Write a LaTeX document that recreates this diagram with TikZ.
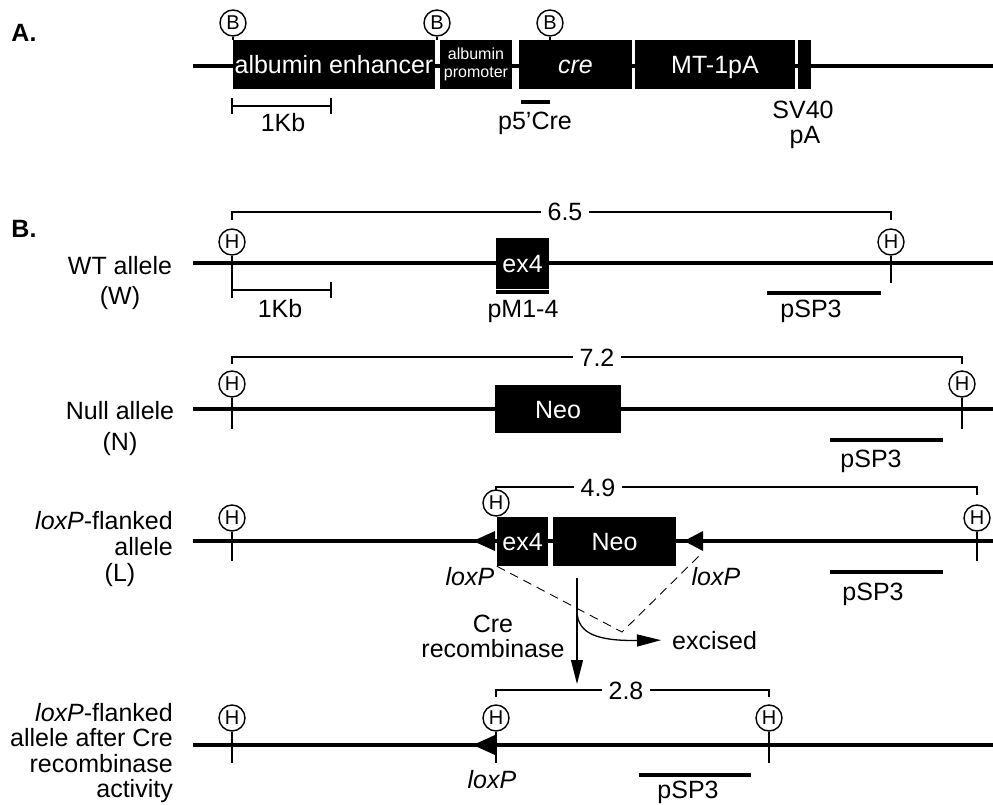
\documentclass[tikz,border=0pt]{standalone}
\usepackage{fontspec}
\setmainfont{Liberation Sans}
\usetikzlibrary{arrows.meta}
\newcommand\lblfont{\fontsize{25}{30}\selectfont}
\newcommand\tinyfont{\fontsize{16}{16}\selectfont}
\newcommand\sitefont{\fontsize{20}{20}\selectfont}
\begin{document}
\begin{tikzpicture}[x=1pt,y=-1pt,
  dna/.style={line width=3.2pt},
  gboxbase/.style={fill=black, draw=none, text=white, inner sep=0pt},
  gbox/.style={gboxbase, font=\lblfont, text height=18pt, text depth=0pt},
  site/.style={circle, draw, line width=1.4pt, fill=white, inner sep=0pt, minimum size=26pt, font=\sitefont},
  stem/.style={line width=1.3pt},
  probe/.style={line width=4.5pt},
  brk/.style={line width=1.2pt},
  txt/.style={inner sep=0pt, font=\lblfont, text height=18pt, text depth=0pt},
  num/.style={txt, fill=white, inner xsep=7pt},
  dsh/.style={line width=0.9pt, dash pattern=on 9pt off 6pt},
  arr/.style={line width=1.3pt, -{Triangle[length=24pt,width=12pt]}},
]
\useasboundingbox (0,0) rectangle (993,805);

% ---------------- Panel A ----------------
\node[txt, font=\lblfont\bfseries] (A) at (24,33) {A.};
\coordinate (aL) at (193,66);
\coordinate (aR) at (993,66);
\draw[dna] (aL) -- (aR);
\node[gbox, minimum width=202pt, minimum height=49pt] (enh) at (334,64.5) {albumin enhancer};
\node[gboxbase, minimum width=72pt, minimum height=49pt, align=center, font=\tinyfont] (prom) at (476,64.5) {albumin\\[2pt]promoter};
\node[gbox, minimum width=113pt, minimum height=49pt] (cre) at (575.5,64.5) {\itshape cre};
\node[gbox, minimum width=160pt, minimum height=49pt] (mt) at (715,64.5) {MT-1pA};
\node[gbox, minimum width=13pt, minimum height=49pt] (sv) at (804.5,64.5) {};
\node[site] (B1) at (233,23) {B};
\node[site] (B2) at (437,23) {B};
\node[site] (B3) at (550,23) {B};
\draw[stem] (B1) -- (233,40);
\draw[stem] (B2) -- (437,40);
\draw[stem] (B3) -- (550,40);
% 1 Kb scale
\coordinate (k1) at (232,106);
\coordinate (k2) at (331,106);
\draw[brk] (k1) -- (k2);
\draw[brk] ([yshift=-8pt]k1) -- ([yshift=8pt]k1);
\draw[brk] ([yshift=-8pt]k2) -- ([yshift=8pt]k2);
\node[txt] (kbA) at (283,123) {1Kb};
% p5'Cre
\coordinate (pc1) at (521,102);
\coordinate (pc2) at (550,102);
\draw[probe] (pc1) -- (pc2);
\node[txt] (pcre) at (535,121) {p5'Cre};
\node[txt] (sv40) at (803,110) {SV40};
\node[txt] (pA) at (805,135) {pA};

% ---------------- Panel B ----------------
\node[txt, font=\lblfont\bfseries] (B) at (24,228) {B.};

% WT allele
\node[txt] (wtl1) at (120,265) {WT allele};
\node[txt] (wtl2) at (120,295) {(W)};
\coordinate (wL) at (193,263);
\coordinate (wR) at (993,263);
\draw[dna] (wL) -- (wR);
\draw[brk] (232,220) -- (232,212) -- (891,212) -- (891,220);
\node[num] (n65) at (565,212) {6.5};
\node[site] (wH1) at (232,242) {H};
\node[site] (wH2) at (891,242) {H};
\draw[stem] (wH1) -- (232,283);
\draw[stem] (wH2) -- (891,283);
\node[gbox, minimum width=53pt, minimum height=51pt] (wex4) at (522.5,263.5) {ex4};
\draw[probe] (496,292) -- (549,292);
\node[txt] (pm14) at (523,308) {pM1-4};
\coordinate (k3) at (232,290);
\coordinate (k4) at (331,290);
\draw[brk] (k3) -- (k4);
\draw[brk] ([yshift=-8pt]k3) -- ([yshift=8pt]k3);
\draw[brk] ([yshift=-8pt]k4) -- ([yshift=8pt]k4);
\node[txt] (kbB) at (280,308) {1Kb};
\draw[probe] (767,293) -- (881,293);
\node[txt] (wsp) at (811,308) {pSP3};

% Null allele
\node[txt] (nl1) at (120,410) {Null allele};
\node[txt] (nl2) at (120,441) {(N)};
\coordinate (nL) at (193,409);
\coordinate (nR) at (993,409);
\draw[dna] (nL) -- (nR);
\draw[brk] (232,364) -- (232,357) -- (962,357) -- (962,364);
\node[num] (n72) at (597,357) {7.2};
\node[site] (nH1) at (232,384) {H};
\node[site] (nH2) at (962,384) {H};
\draw[stem] (nH1) -- (232,429);
\draw[stem] (nH2) -- (962,429);
\node[gbox, minimum width=126pt, minimum height=48pt] (nneo) at (558,409) {Neo};
\draw[probe] (830,440) -- (943,440);
\node[txt] (nsp) at (871,458) {pSP3};

% loxP-flanked allele
\node[txt, anchor=east] (ll1) at (173,520) {\itshape loxP\upshape -flanked};
\node[txt, anchor=east] (ll2) at (173,546) {allele};
\node[txt] (ll3) at (120,572) {(L)};
\coordinate (lL) at (193,541);
\coordinate (lR) at (993,541);
\draw[dna] (lL) -- (lR);
\draw[brk] (496,490) -- (496,487) -- (977,487) -- (977,495);
\node[num] (n49) at (598,487) {4.9};
\node[site] (lH1) at (232,518) {H};
\node[site] (lH2) at (496,503) {H};
\node[site] (lH3) at (977,518) {H};
\draw[stem] (lH1) -- (232,561);
\draw[stem] (lH3) -- (977,561);
\node[gbox, minimum width=51pt, minimum height=49pt] (lex4) at (522.5,541.5) {ex4};
\node[gbox, minimum width=123pt, minimum height=49pt] (lneo) at (614.5,541.5) {Neo};
\draw[stem] (lH2) -- (lex4.north west);
\fill (473,541) -- (495,531) -- (495,551) -- cycle;
\fill (684,541) -- (703,531) -- (703,551) -- cycle;
\node[txt, font=\lblfont\itshape] (lox1) at (470,576) {loxP};
\node[txt, font=\lblfont\itshape] (lox2) at (716,576) {loxP};
\draw[probe] (830,572) -- (943,572);
\node[txt] (lsp) at (873,591) {pSP3};

% Cre excision
\coordinate (dR) at (700,555);
\coordinate (dV) at (622,632);
\draw[dsh] (lex4.south west) -- (dV) -- (dR);
\coordinate (cs) at (577,578);
\coordinate (ce) at (577,684);
\draw[arr] (cs) -- (ce);
\node[txt] (cre1) at (493,623) {Cre};
\node[txt] (cre2) at (493,648) {recombinase};
\node[txt, anchor=west] (exc) at (672,640) {excised};
\coordinate (cv) at (577,612);
\draw[arr, shorten >=11pt] (cv) .. controls (578,634) and (598,641) .. (exc.west);

% after Cre
\node[txt, anchor=east] (al1) at (173,712) {\itshape loxP\upshape -flanked};
\node[txt, anchor=east] (al2) at (173,737) {allele after Cre};
\node[txt, anchor=east] (al3) at (173,763) {recombinase};
\node[txt, anchor=east] (al4) at (173,788) {activity};
\coordinate (fL) at (193,745);
\coordinate (fR) at (993,745);
\draw[dna] (fL) -- (fR);
\draw[brk] (496,697) -- (496,690) -- (769,690) -- (769,697);
\node[num] (n28) at (626,690) {2.8};
\node[site] (fH1) at (232,718) {H};
\node[site] (fH2) at (496,718) {H};
\node[site] (fH3) at (769,718) {H};
\draw[stem] (fH1) -- (232,763);
\draw[stem] (fH2) -- (496,763);
\draw[stem] (fH3) -- (769,763);
\fill (473,745) -- (495,735) -- (495,755) -- cycle;
\node[txt, font=\lblfont\itshape] (lox3) at (492,779) {loxP};
\draw[probe] (639,775) -- (751,775);
\node[txt] (fsp) at (688,789) {pSP3};
\end{tikzpicture}
\end{document}
